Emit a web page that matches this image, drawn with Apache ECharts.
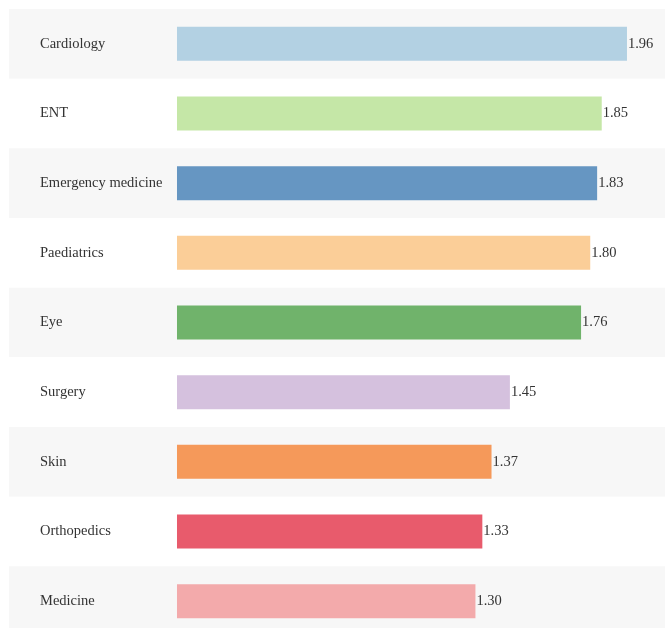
<!DOCTYPE html>
<html>
<head>
<meta charset="utf-8">
<script src="https://cdn.jsdelivr.net/npm/echarts@6/dist/echarts.min.js"></script>
<style>
  html, body { margin: 0; padding: 0; background: #fff; }
  #chart { width: 665px; height: 628px; }
</style>
</head>
<body>
<div id="chart"></div>
<script>
// data
const departments = ["Cardiology", "ENT", "Emergency medicine", "Paediatrics", "Eye",
  "Surgery", "Skin", "Orthopedics", "Medicine"];
const ratios = [1.96, 1.85, 1.83, 1.80, 1.76, 1.45, 1.37, 1.33, 1.30];
const barColors = ["#b3d1e3", "#c5e7a7", "#6696c2", "#fbce98", "#70b36b",
  "#d5c1de", "#f5995a", "#e85b6c", "#f3aaab"];

const chart = echarts.init(document.getElementById("chart"));
const font = "'Liberation Serif', 'Times New Roman', serif";

chart.setOption({
  animation: false,
  backgroundColor: "#ffffff",
  // last row runs a little past the bottom edge, as in the reference
  grid: { left: 9, right: 0, top: 9, bottom: -8, outerBoundsMode: "none", containLabel: false },
  xAxis: {
    type: "value",
    // bars start at x=177, the rest of the width holds the labels
    min: -0.7317,
    max: 2.1256,
    show: false
  },
  yAxis: {
    type: "category",
    inverse: true,
    data: departments,
    axisLine: { show: false },
    axisTick: { show: false },
    splitLine: { show: false },
    splitArea: { show: true, areaStyle: { color: ["#f7f7f7", "#ffffff"] } },
    axisLabel: {
      inside: true,
      margin: 31,
      align: "left",
      color: "#333",
      fontFamily: font,
      fontSize: 14.5
    }
  },
  series: [{
    type: "bar",
    barWidth: 34,
    data: ratios.map((v, i) => ({ value: v, itemStyle: { color: barColors[i] } })),
    label: {
      show: true,
      position: "right",
      distance: 1,
      color: "#333",
      fontFamily: font,
      fontSize: 14.5,
      formatter: (p) => p.value.toFixed(2)
    }
  }]
});
</script>
</body>
</html>
